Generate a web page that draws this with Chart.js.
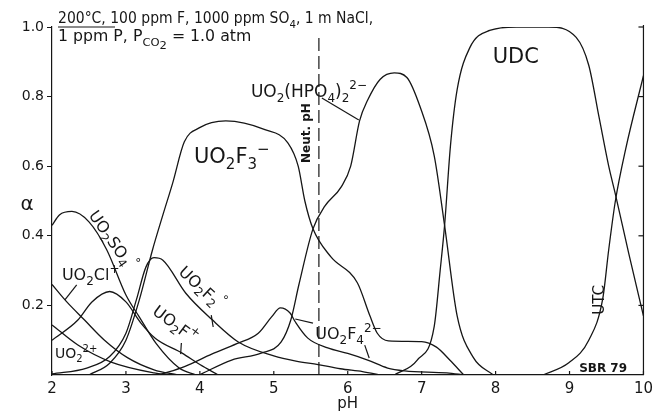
<!DOCTYPE html>
<html>
<head>
<meta charset="utf-8">
<script src="https://cdn.jsdelivr.net/npm/chart.js@4.4.0/dist/chart.umd.min.js"></script>
<style>
  html, body { margin: 0; padding: 0; background: #fff; }
  #wrap { width: 658px; height: 414px; }
</style>
</head>
<body>
<div id="wrap"><canvas id="myChart" width="658" height="414"></canvas></div>
<script>
// pH / alpha values
const pH_SO4 = [2, 2.1, 2.27, 2.5, 2.74, 3.0, 3.18, 3.41, 3.72, 3.95];
const a_SO4  = [0.43, 0.46, 0.47, 0.44, 0.36, 0.23, 0.167, 0.09, 0.02, 0];

const pH_Cl = [2, 2.2, 2.44, 2.71, 3.02, 3.38, 3.7];
const a_Cl  = [0.26, 0.21, 0.158, 0.10, 0.05, 0.015, 0];

const pH_UO2 = [2, 2.35, 2.8, 3.38, 3.6];
const a_UO2  = [0.144, 0.086, 0.037, 0.006, 0];

const pH_F1 = [2, 2.35, 2.54, 2.78, 3.0, 3.2, 3.4, 3.76, 4.0, 4.25];
const a_F1  = [0.10, 0.158, 0.21, 0.24, 0.21, 0.15, 0.105, 0.063, 0.03, 0];

const pH_F2 = [2, 2.47, 2.78, 3.0, 3.14, 3.27, 3.38, 3.5, 3.81, 4.16, 4.52, 5.0, 5.3, 5.6, 5.9, 6.2, 6.45];
const a_F2  = [0.003, 0.02, 0.053, 0.12, 0.215, 0.31, 0.337, 0.33, 0.235, 0.16, 0.095, 0.055, 0.04, 0.03, 0.018, 0.01, 0];

const pH_F3 = [2.5, 2.78, 3.0, 3.18, 3.36, 3.5, 3.63, 3.79, 3.99, 4.35, 4.88, 5.19, 5.33, 5.42, 5.53, 5.77, 6.13, 6.3, 6.4, 6.55, 7.0, 7.2, 7.38, 7.57];
const a_F3  = [0, 0.034, 0.1, 0.215, 0.36, 0.46, 0.55, 0.67, 0.71, 0.73, 0.705, 0.667, 0.6, 0.5, 0.42, 0.34, 0.265, 0.17, 0.12, 0.098, 0.096, 0.08, 0.043, 0];

const pH_F4 = [3.45, 3.8, 4.16, 4.5, 4.79, 4.97, 5.09, 5.22, 5.29, 5.46, 5.73, 6.0, 6.27, 6.54, 6.77, 7.34, 7.58];
const a_F4  = [0, 0.025, 0.06, 0.09, 0.12, 0.167, 0.193, 0.178, 0.153, 0.106, 0.078, 0.062, 0.043, 0.02, 0.012, 0.006, 0];

const pH_HPO4 = [3.99, 4.43, 4.83, 5.1, 5.23, 5.34, 5.53, 5.69, 5.91, 6.04, 6.16, 6.27, 6.44, 6.63, 6.8, 6.98, 7.17, 7.31, 7.48, 7.7, 7.97];
const a_HPO4  = [0, 0.043, 0.063, 0.095, 0.158, 0.26, 0.42, 0.485, 0.54, 0.6, 0.73, 0.79, 0.85, 0.868, 0.855, 0.77, 0.63, 0.43, 0.17, 0.05, 0];

const pH_UDC = [6.63, 6.94, 7.17, 7.25, 7.31, 7.39, 7.48, 7.65, 7.92, 8.28, 8.72, 9.09, 9.26, 9.4, 9.53, 9.62, 9.8, 10];
const a_UDC  = [0, 0.043, 0.14, 0.3, 0.43, 0.66, 0.82, 0.94, 0.99, 1.0, 1.0, 0.97, 0.89, 0.74, 0.6, 0.52, 0.35, 0.17];

const pH_UTC = [8.64, 8.99, 9.26, 9.45, 9.53, 9.62, 9.76, 10];
const a_UTC  = [0, 0.035, 0.1, 0.22, 0.36, 0.5, 0.65, 0.86];

const pH_neut = [5.61, 5.61];
const a_neut  = [0, 0.97];

const X_TICKS = [2, 3, 4, 5, 6, 7, 8, 9, 10];
const Y_TICKS = [0.2, 0.4, 0.6, 0.8, 1.0];

const FONT = '"DejaVu Sans", sans-serif';
const INK = '#161616';

function pts(xs, ys) {
    return xs.map((x, i) => ({ x: x, y: ys[i] }));
}

function curve(xs, ys) {
    return {
        data: pts(xs, ys),
        borderColor: INK,
        borderWidth: 1.3,
        pointRadius: 0,
        fill: false,
        cubicInterpolationMode: 'monotone'
    };
}

// draw text made of parts: [text, level] (0 normal, -1 sub, -2 subsub, 1 sup)
function drawRich(ctx, x, y, parts, size, opt) {
    opt = opt || {};
    const weight = opt.bold ? 'bold ' : '';
    const fontFor = lv => weight + Math.round(lv === 0 ? size : size * 0.72) + 'px ' + FONT;
    const shift = lv => lv === 0 ? 0 : lv === 1 ? -size * 0.45 : lv === -1 ? size * 0.3 : size * 0.55;
    let total = 0;
    parts.forEach(p => { ctx.font = fontFor(p[1]); total += ctx.measureText(p[0]).width; });
    const sx = opt.sx || 1;
    ctx.save();
    ctx.translate(x, y);
    if (opt.angle) ctx.rotate(opt.angle * Math.PI / 180);
    ctx.scale(sx, 1);
    let cx = opt.center ? -total / 2 : 0;
    ctx.fillStyle = INK;
    ctx.textBaseline = opt.middle ? 'middle' : 'alphabetic';
    parts.forEach(p => {
        ctx.font = fontFor(p[1]);
        ctx.fillText(p[0], cx, shift(p[1]));
        cx += ctx.measureText(p[0]).width;
    });
    ctx.restore();
}

const annotations = {
    id: 'annotations',
    afterDatasetsDraw(chart) {
        const ctx = chart.ctx;
        const xs = chart.scales.x, ys = chart.scales.y;
        const a = chart.chartArea;
        const X = v => xs.getPixelForValue(v);
        const Y = v => ys.getPixelForValue(v);
        const line = (x1, y1, x2, y2) => {
            ctx.beginPath();
            ctx.moveTo(X(x1), Y(y1));
            ctx.lineTo(X(x2), Y(y2));
            ctx.stroke();
        };

        ctx.save();
        ctx.strokeStyle = INK;
        ctx.lineWidth = 1.2;

        // right frame line with inward ticks
        ctx.beginPath();
        ctx.moveTo(a.right, a.top - 2);
        ctx.lineTo(a.right, a.bottom);
        ctx.stroke();
        Y_TICKS.forEach(v => {
            ctx.beginPath();
            ctx.moveTo(a.right, Y(v));
            ctx.lineTo(a.right - 5, Y(v));
            ctx.stroke();
        });
        // inward ticks on pH axis
        X_TICKS.forEach(v => {
            ctx.beginPath();
            ctx.moveTo(X(v), a.bottom);
            ctx.lineTo(X(v), a.bottom - 4);
            ctx.stroke();
        });

        // leader lines
        line(5.65, 0.796, 6.15, 0.733);
        line(2.334, 0.259, 2.174, 0.216);
        line(4.154, 0.172, 4.18, 0.138);
        line(3.75, 0.092, 3.74, 0.06);
        line(5.53, 0.149, 5.29, 0.161);
        line(6.23, 0.086, 6.29, 0.049);

        // curve labels
        drawRich(ctx, X(3.92), Y(0.609), [['UO', 0], ['2', -1], ['F', 0], ['3', -1], ['\u2212', 1]], 21);
        drawRich(ctx, X(7.96), Y(0.897), [['UDC', 0]], 21);
        drawRich(ctx, X(4.69), Y(0.799), [['UO', 0], ['2', -1], ['(HPO', 0], ['4', -1], [')', 0], ['2', -1], ['2\u2212', 1]], 17);
        drawRich(ctx, X(5.45), Y(0.695), [['Neut. pH', 0]], 12, { bold: true, angle: -90, center: true, middle: true });
        drawRich(ctx, X(2.535), Y(0.466), [['UO', 0], ['2', -1], ['SO', 0], ['4', -1], ['\u00b0', 1]], 16, { angle: 55, middle: true });
        drawRich(ctx, X(2.134), Y(0.273), [['UO', 0], ['2', -1], ['Cl', 0], ['+', 1]], 16);
        drawRich(ctx, X(2.04), Y(0.049), [['UO', 0], ['2', -1], ['2+', 1]], 14);
        drawRich(ctx, X(3.74), Y(0.302), [['UO', 0], ['2', -1], ['F', 0], ['2', -1], ['\u00b0', 1]], 16, { angle: 43, middle: true });
        drawRich(ctx, X(3.38), Y(0.187), [['UO', 0], ['2', -1], ['F', 0], ['+', 1]], 16, { angle: 37, middle: true });
        drawRich(ctx, X(5.56), Y(0.103), [['UO', 0], ['2', -1], ['F', 0], ['4', -1], ['2\u2212', 1]], 16);
        drawRich(ctx, X(9.41), Y(0.216), [['UTC', 0]], 15, { angle: -90, center: true, middle: true });
        drawRich(ctx, X(9.13), Y(0.009), [['SBR 79', 0]], 12, { bold: true });

        // y axis symbol
        drawRich(ctx, a.left - 25, Y(0.49), [['\u03b1', 0]], 20, { center: true, middle: true });

        // conditions header
        drawRich(ctx, a.left + 6, a.top - 4, [['200\u00b0C, 100 ppm F, 1000 ppm SO', 0], ['4', -1], [', 1 m NaCl,', 0]], 15, { sx: 0.93 });
        drawRich(ctx, a.left + 6, a.top + 14, [['1 ppm P, P', 0], ['CO', -1], ['2', -2], [' = 1.0 atm', 0]], 15, { sx: 1.05 });
        ctx.beginPath();
        ctx.moveTo(a.left + 6, a.top);
        ctx.lineTo(a.left + 63, a.top);
        ctx.stroke();
        ctx.restore();
    }
};

const neutral = curve(pH_neut, a_neut);
neutral.borderDash = [13, 5];
neutral.borderWidth = 1.2;
neutral.cubicInterpolationMode = 'default';

new Chart(document.getElementById('myChart'), {
    type: 'line',
    data: {
        datasets: [
            curve(pH_SO4, a_SO4),
            curve(pH_Cl, a_Cl),
            curve(pH_UO2, a_UO2),
            curve(pH_F1, a_F1),
            curve(pH_F2, a_F2),
            curve(pH_F3, a_F3),
            curve(pH_F4, a_F4),
            curve(pH_HPO4, a_HPO4),
            curve(pH_UDC, a_UDC),
            curve(pH_UTC, a_UTC),
            neutral
        ]
    },
    options: {
        responsive: false,
        animation: false,
        devicePixelRatio: 1,
        layout: { padding: { left: 0, right: 8, top: 27, bottom: 0 } },
        plugins: { legend: { display: false }, tooltip: { enabled: false } },
        scales: {
            x: {
                type: 'linear',
                min: 2,
                max: 10,
                afterFit: s => { s.height = 39; },
                afterBuildTicks: s => { s.ticks = X_TICKS.map(v => ({ value: v })); },
                grid: { display: true, drawOnChartArea: false, drawTicks: false },
                border: { display: true, color: INK, width: 1.2 },
                ticks: { color: INK, padding: 5, font: { family: FONT, size: 15 }, maxRotation: 0 },
                title: { display: true, text: 'pH', color: INK, font: { family: FONT, size: 15 }, padding: { top: 0, bottom: 1 } }
            },
            y: {
                min: 0,
                max: 1,
                afterFit: s => { s.width = 52; },
                afterBuildTicks: s => { s.ticks = Y_TICKS.map(v => ({ value: v })); },
                grid: { display: true, drawOnChartArea: false, drawTicks: true, tickLength: 5, color: INK },
                border: { display: true, color: INK, width: 1.2 },
                ticks: { color: INK, padding: 3, font: { family: FONT, size: 14 }, callback: v => v.toFixed(1) }
            }
        }
    },
    plugins: [annotations]
});
</script>
</body>
</html>
